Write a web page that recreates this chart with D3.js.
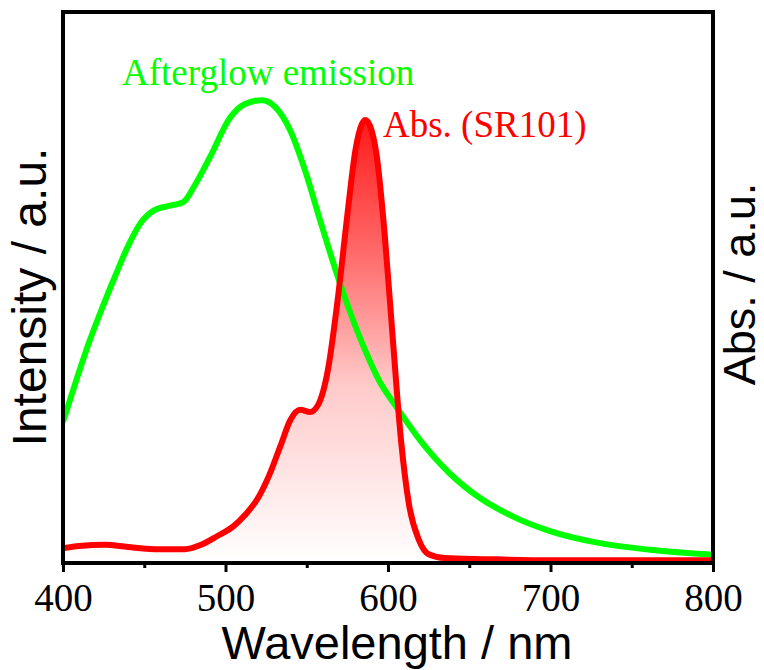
<!DOCTYPE html>
<html>
<head>
<meta charset="utf-8">
<script src="https://cdn.jsdelivr.net/npm/d3@7"></script>
<style>
  html, body { margin: 0; padding: 0; background: #fff; }
  svg { display: block; }
</style>
</head>
<body>
<svg id="chart" width="764" height="670"></svg>
<script>
// Afterglow emission spectrum (normalised intensity)
const emWavelength = [400, 408, 416, 424, 432, 440, 448, 456, 465, 474, 481.2, 490.5, 502.8, 512, 522.5, 530.5, 539.7, 548.9, 558.2, 567.4, 576.6, 585.8, 595.1, 604.3, 619.7, 638.2, 656.6, 675.1, 699.7, 730.5, 761.2, 800];
const emIntensity  = [0.256, 0.330, 0.400, 0.462, 0.520, 0.575, 0.618, 0.640, 0.648, 0.655, 0.686, 0.737, 0.808, 0.833, 0.840, 0.828, 0.786, 0.713, 0.622, 0.535, 0.456, 0.387, 0.328, 0.287, 0.223, 0.162, 0.118, 0.087, 0.058, 0.036, 0.024, 0.015];

// Absorption spectrum of SR101
const absWavelength = [400, 410, 426, 440, 460, 475, 485, 495, 505, 512, 520, 527, 534, 540, 546, 552, 557, 563, 569, 575, 580, 584, 586, 589, 593, 598, 603, 608, 613, 619, 625, 635, 660, 700, 800];
const absValue      = [0.027, 0.031, 0.033, 0.029, 0.025, 0.025, 0.033, 0.049, 0.067, 0.087, 0.118, 0.160, 0.214, 0.260, 0.278, 0.274, 0.287, 0.350, 0.477, 0.632, 0.750, 0.797, 0.804, 0.793, 0.740, 0.595, 0.405, 0.223, 0.105, 0.042, 0.016, 0.009, 0.007, 0.005, 0.005];

const xTicks = [400, 500, 600, 700, 800];
const xMinorTicks = [450, 550, 650, 750];

const svg = d3.select("#chart");
const plotLeft = 63, plotRight = 713, plotTop = 12, plotBottom = 563;

const x = d3.scaleLinear().domain([400, 800]).range([plotLeft, plotRight]);
const y = d3.scaleLinear().domain([0, 1]).range([plotBottom, plotTop]);

// vertical red-to-white gradient under the absorption band
const defs = svg.append("defs");
const grad = defs.append("linearGradient")
  .attr("id", "absFill")
  .attr("gradientUnits", "userSpaceOnUse")
  .attr("x1", 0).attr("x2", 0)
  .attr("y1", y(d3.max(absValue))).attr("y2", plotBottom);
[[0, "#ff1a1a"], [0.3, "#ff6a6a"], [0.6, "#ffcaca"], [1, "#ffffff"]].forEach(([o, c]) =>
  grad.append("stop").attr("offset", o).attr("stop-color", c));

const absData = absWavelength.map((w, i) => [w, absValue[i]]);
const emData = emWavelength.map((w, i) => [w, emIntensity[i]]);

svg.append("path")
  .datum(absData)
  .attr("fill", "url(#absFill)")
  .attr("d", d3.area().x(d => x(d[0])).y0(plotBottom).y1(d => y(d[1])).curve(d3.curveMonotoneX));

const line = d3.line().x(d => x(d[0])).y(d => y(d[1])).curve(d3.curveMonotoneX);

const clip = defs.append("clipPath").attr("id", "plotClip");
clip.append("rect").attr("x", plotLeft).attr("y", plotTop)
  .attr("width", plotRight - plotLeft).attr("height", plotBottom - plotTop);

svg.append("path")
  .datum(emData)
  .attr("fill", "none")
  .attr("stroke", "#00ff00")
  .attr("stroke-width", 6)
  .attr("clip-path", "url(#plotClip)")
  .attr("d", line);

svg.append("path")
  .datum(absData)
  .attr("fill", "none")
  .attr("stroke", "#ff0000")
  .attr("stroke-width", 6)
  .attr("clip-path", "url(#plotClip)")
  .attr("d", line);

// frame
svg.append("rect")
  .attr("x", plotLeft).attr("y", plotTop)
  .attr("width", plotRight - plotLeft).attr("height", plotBottom - plotTop)
  .attr("fill", "none").attr("stroke", "#000").attr("stroke-width", 4);

// x axis
const xAxis = svg.append("g")
  .attr("transform", `translate(0,${plotBottom})`)
  .call(d3.axisBottom(x).tickValues(xTicks).tickSize(9).tickFormat(d3.format("d")));
xAxis.select(".domain").remove();
xAxis.selectAll("line").attr("stroke", "#000").attr("stroke-width", 3);
xAxis.selectAll("text")
  .attr("dy", 0)
  .attr("y", 48)
  .attr("font-family", "'Liberation Serif', 'Times New Roman', serif")
  .attr("font-size", 39).attr("fill", "#000");

const xMinor = svg.append("g")
  .attr("transform", `translate(0,${plotBottom})`)
  .call(d3.axisBottom(x).tickValues(xMinorTicks).tickSize(5).tickFormat(""));
xMinor.select(".domain").remove();
xMinor.selectAll("line").attr("stroke", "#000").attr("stroke-width", 3);

// axis titles
svg.append("text")
  .attr("x", 397).attr("y", 659)
  .attr("text-anchor", "middle")
  .attr("font-family", "'Liberation Sans', Arial, sans-serif")
  .attr("font-size", 47)
  .text("Wavelength / nm");

svg.append("text")
  .attr("transform", "translate(46,297) rotate(-90)")
  .attr("text-anchor", "middle")
  .attr("font-family", "'Liberation Sans', Arial, sans-serif")
  .attr("font-size", 48)
  .text("Intensity / a.u.");

svg.append("text")
  .attr("transform", "translate(755,284) rotate(-90)")
  .attr("text-anchor", "middle")
  .attr("font-family", "'Liberation Sans', Arial, sans-serif")
  .attr("font-size", 45)
  .text("Abs. / a.u.");

// series labels
svg.append("text")
  .attr("x", 122).attr("y", 85)
  .attr("font-family", "'Liberation Serif', 'Times New Roman', serif")
  .attr("font-size", 37).attr("fill", "#00ff00")
  .text("Afterglow emission");

svg.append("text")
  .attr("x", 383).attr("y", 137)
  .attr("font-family", "'Liberation Serif', 'Times New Roman', serif")
  .attr("font-size", 37).attr("fill", "#ff0000")
  .text("Abs. (SR101)");
</script>
</body>
</html>
